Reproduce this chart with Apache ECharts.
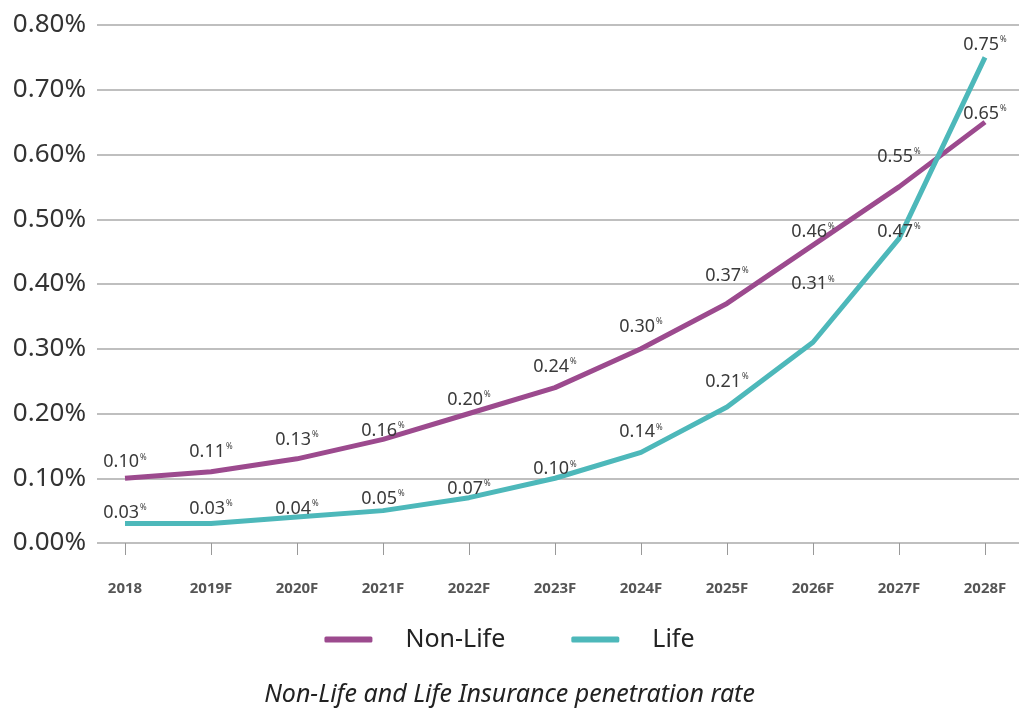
<!DOCTYPE html>
<html>
<head>
<meta charset="utf-8">
<script src="https://cdn.jsdelivr.net/npm/echarts@6/dist/echarts.min.js"></script>
<style>
  html, body { margin: 0; padding: 0; background: #fff; }
  #chart { width: 1019px; height: 718px; }
</style>
</head>
<body>
<div id="chart"></div>
<script>
// Years on the x axis
const years = ['2018', '2019F', '2020F', '2021F', '2022F', '2023F', '2024F', '2025F', '2026F', '2027F', '2028F'];
// Penetration rate, in percent
const nonLife = [0.10, 0.11, 0.13, 0.16, 0.20, 0.24, 0.30, 0.37, 0.46, 0.55, 0.65];
const life = [0.03, 0.03, 0.04, 0.05, 0.07, 0.10, 0.14, 0.21, 0.31, 0.47, 0.75];
// Y axis range and step, in percent
const yMin = 0, yMax = 0.8, yStep = 0.1;
const titleText = 'Non-Life and Life Insurance penetration rate';

// Vertical nudges for the value labels (px, negative = up)
const nonLifeLabelDy = [-3, -7, -6, 4, -1, -8, -9, -15, 0, -17, 5];
const lifeLabelDy = [2, -2, 5, 1, 4, 4, -7, -12, -45, 6, 0];

const FONT = 'Noto Sans';
const PURPLE = '#9c4a8e';
const TEAL = '#4db8ba';

function labelData(values, dys) {
  return values.map((v, i) => ({
    value: v,
    label: { offset: [0, dys[i]] }
  }));
}

const valueLabel = {
  show: true,
  position: 'top',
  distance: 4,
  formatter: p => '{v|' + p.value.toFixed(2) + '}{p|%}',
  rich: {
    v: { fontFamily: FONT, fontSize: 18, color: '#3a3a3a' },
    p: { fontFamily: FONT, fontSize: 8, color: '#3a3a3a', padding: [0, 0, 10, 1] }
  }
};

const chart = echarts.init(document.getElementById('chart'), null, { renderer: 'canvas' });
chart.setOption({
  animation: false,
  backgroundColor: '#fff',
  title: {
    text: titleText,
    left: 'center',
    bottom: 6,
    textStyle: { fontFamily: FONT, fontSize: 25, fontStyle: 'italic', fontWeight: 'normal', color: '#222' }
  },
  legend: {
    data: ['Non-Life', 'Life'],
    top: 622,
    left: 'center',
    itemWidth: 48,
    itemHeight: 6,
    itemGap: 66,
    icon: 'roundRect',
    textStyle: { fontFamily: FONT, fontSize: 25, color: '#222', padding: [0, 0, 0, 28] }
  },
  grid: [
    // full-width grid carrying the y labels and the horizontal rules
    { left: 97, right: 0, top: 25, bottom: 175 },
    // grid the lines are plotted in, first and last year at its edges
    { left: 125, right: 34, top: 25, bottom: 175 }
  ],
  xAxis: [
    { type: 'category', gridIndex: 0, data: years, show: false },
    {
      type: 'category', gridIndex: 1, data: years, boundaryGap: false,
      axisLine: { show: false },
      axisTick: { show: true, length: 12, lineStyle: { color: '#999', width: 1 }, alignWithLabel: true },
      axisLabel: { margin: 38, fontFamily: FONT, fontSize: 15, fontWeight: 'bold', color: '#555' }
    }
  ],
  yAxis: [
    {
      type: 'value', gridIndex: 0, min: yMin, max: yMax, interval: yStep,
      axisLine: { show: false }, axisTick: { show: false },
      axisLabel: { margin: 11, fontFamily: FONT, fontSize: 26, color: '#333', formatter: v => v.toFixed(2) + '%' },
      splitLine: { lineStyle: { color: '#aaa', width: 1.5 } }
    },
    {
      type: 'value', gridIndex: 1, min: yMin, max: yMax, interval: yStep, show: false,
      splitLine: { show: false }
    }
  ],
  series: [
    {
      name: 'Non-Life', type: 'line', xAxisIndex: 1, yAxisIndex: 1,
      data: labelData(nonLife, nonLifeLabelDy),
      showSymbol: true, symbol: 'circle', symbolSize: 0,
      lineStyle: { color: PURPLE, width: 5 }, itemStyle: { color: PURPLE },
      label: valueLabel, z: 3
    },
    {
      name: 'Life', type: 'line', xAxisIndex: 1, yAxisIndex: 1,
      data: labelData(life, lifeLabelDy),
      showSymbol: true, symbol: 'circle', symbolSize: 0,
      lineStyle: { color: TEAL, width: 5 }, itemStyle: { color: TEAL },
      label: valueLabel, z: 4
    }
  ]
});
</script>
</body>
</html>
